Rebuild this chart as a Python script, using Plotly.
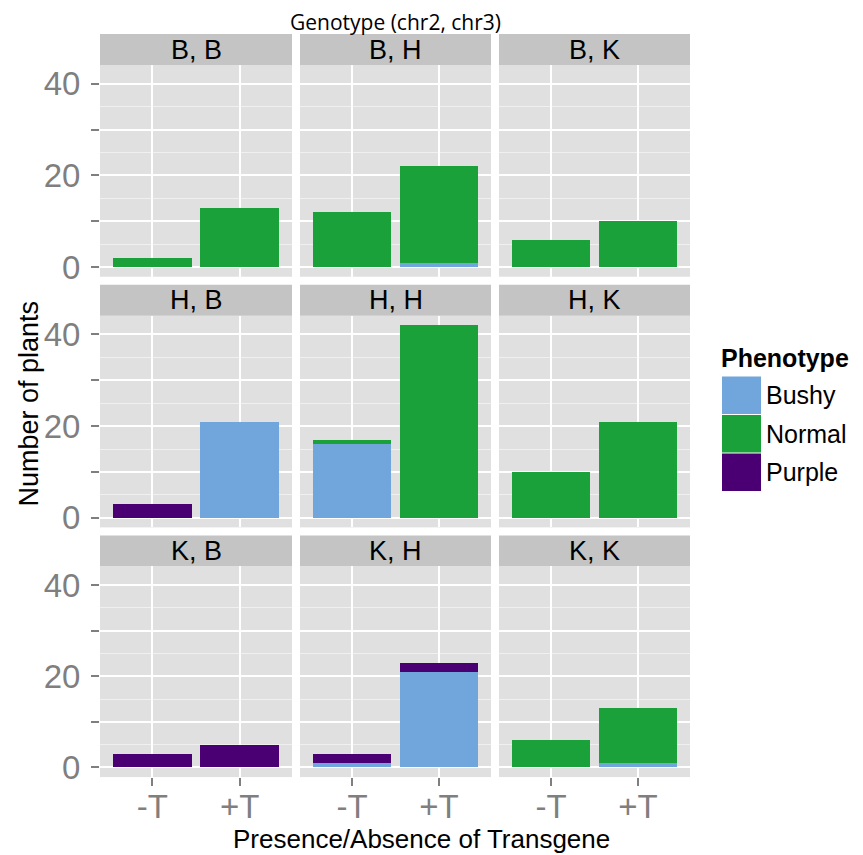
import plotly.graph_objects as go
from plotly.subplots import make_subplots

# ---------------- data ----------------
genotypes = ["B, B", "B, H", "B, K",
             "H, B", "H, H", "H, K",
             "K, B", "K, H", "K, K"]
transgene = ["-T", "+T"]
phenotypes = ["Bushy", "Normal", "Purple"]

bushy_minus = [0, 0, 0, 0, 16, 0, 0, 1, 0]
bushy_plus = [0, 1, 0, 21, 0, 0, 0, 21, 1]
normal_minus = [2, 12, 6, 0, 1, 10, 0, 0, 6]
normal_plus = [13, 21, 10, 0, 42, 21, 0, 0, 12]
purple_minus = [0, 0, 0, 3, 0, 0, 3, 2, 0]
purple_plus = [0, 0, 0, 0, 0, 0, 5, 2, 0]

y_tick_vals = [0, 10, 20, 30, 40]
y_tick_text = ["0", "", "20", "", "40"]
y_minor_vals = [5, 15, 25, 35]

# ---------------- styles ----------------
colors = {"Bushy": "#71A6DC", "Normal": "#1AA13A", "Purple": "#4A0072"}
OFF = 8            # default page body margin
SY = 863 / 855     # observed vertical scale of the snapshot
W, H = 863 - 2 * OFF, 852
FONT = "Liberation Sans"
col_px = [(100, 292), (300, 491), (499, 690)]
row_px = [(65, 277), (316, 528), (567, 778)]
strip_px = [(34, 65), (285, 316), (536, 567)]

def px_x(x):
    return (x - OFF) / W

def px_y(y):
    return 1 - (y * SY - OFF) / H

series = {
    "Bushy": (bushy_minus, bushy_plus),
    "Normal": (normal_minus, normal_plus),
    "Purple": (purple_minus, purple_plus),
}

fig = make_subplots(rows=3, cols=3)

for i, g in enumerate(genotypes):
    r, c = i // 3 + 1, i % 3 + 1
    for p in phenotypes:
        minus, plus = series[p]
        fig.add_trace(
            go.Bar(x=transgene, y=[minus[i], plus[i]], name=p,
                   marker=dict(color=colors[p], line=dict(width=0)),
                   showlegend=False),
            row=r, col=c)

shapes = []
annotations = []
for i, g in enumerate(genotypes):
    r, c = i // 3, i % 3
    idx = i + 1
    xa = "xaxis" if idx == 1 else f"xaxis{idx}"
    ya = "yaxis" if idx == 1 else f"yaxis{idx}"
    x0, x1 = col_px[c]
    y0, y1 = row_px[r]
    fig.layout[xa].update(
        domain=[px_x(x0), px_x(x1)],
        type="category", categoryorder="array", categoryarray=transgene,
        range=[-0.6, 1.6],
        showgrid=True, gridcolor="white", gridwidth=1.6,
        zeroline=False, showline=False,
        ticks="outside" if r == 2 else "", ticklen=8, tickwidth=1.5,
        tickcolor="#7F7F7F",
        showticklabels=(r == 2),
        tickfont=dict(family=FONT, size=33, color="#7F7F7F"),
        ticklabelstandoff=-8,
        fixedrange=True,
    )
    fig.layout[ya].update(
        domain=[px_y(y1), px_y(y0)],
        range=[-2.1, 44.1],
        tickmode="array", tickvals=y_tick_vals, ticktext=y_tick_text,
        showgrid=True, gridcolor="white", gridwidth=1.6,
        minor=dict(tickmode="array", tickvals=y_minor_vals, showgrid=True,
                   gridcolor="#F0F0F0", gridwidth=0.8, ticks=""),
        zeroline=False, showline=False,
        ticks="outside" if c == 0 else "", ticklen=8, tickwidth=1.5,
        tickcolor="#7F7F7F",
        showticklabels=(c == 0),
        tickfont=dict(family=FONT, size=33, color="#7F7F7F"),
        ticklabelstandoff=4,
        fixedrange=True,
    )
    sy0, sy1 = strip_px[r]
    shapes.append(dict(type="rect", xref="paper", yref="paper",
                       x0=px_x(x0), x1=px_x(x1), y0=px_y(sy1), y1=px_y(sy0),
                       fillcolor="#C4C4C4", line=dict(width=0), layer="below"))
    annotations.append(dict(text=g, xref="paper", yref="paper",
                            x=px_x((x0 + x1) / 2), y=px_y((sy0 + sy1) / 2),
                            xanchor="center", yanchor="middle", showarrow=False,
                            font=dict(family=FONT, size=27, color="black")))

# titles
annotations.append(dict(text="Genotype (chr2, chr3)", xref="paper", yref="paper",
                        x=px_x(395), y=px_y(22.2), xanchor="center", yanchor="middle",
                        showarrow=False,
                        font=dict(family="Open Sans", size=21, color="black")))
annotations.append(dict(text="Presence/Absence of Transgene", xref="paper", yref="paper",
                        x=px_x(421), y=px_y(840), xanchor="center", yanchor="middle",
                        showarrow=False,
                        font=dict(family=FONT, size=26, color="black")))
annotations.append(dict(text="Number of plants", xref="paper", yref="paper",
                        x=px_x(29), y=px_y(404), xanchor="center", yanchor="middle",
                        textangle=-90, showarrow=False,
                        font=dict(family=FONT, size=27, color="black")))

# legend (drawn manually to match large key boxes)
annotations.append(dict(text="<b>Phenotype</b>", xref="paper", yref="paper",
                        x=px_x(719), y=px_y(358), xanchor="left", yanchor="middle",
                        showarrow=False,
                        font=dict(family=FONT, size=25, color="black")))
key_top = 377
key_h = 38.5
for k, p in enumerate(phenotypes):
    ky0 = key_top + k * key_h
    ky1 = ky0 + key_h - 1
    shapes.append(dict(type="rect", xref="paper", yref="paper",
                       x0=px_x(722), x1=px_x(761), y0=px_y(ky1), y1=px_y(ky0),
                       fillcolor=colors[p], line=dict(width=0)))
    annotations.append(dict(text=p, xref="paper", yref="paper",
                            x=px_x(764), y=px_y((ky0 + ky1) / 2),
                            xanchor="left", yanchor="middle", showarrow=False,
                            font=dict(family=FONT, size=25, color="black")))

fig.update_layout(
    width=W, height=H,
    margin=dict(l=0, r=0, t=0, b=0),
    barmode="stack", bargap=0.1,
    plot_bgcolor="#E0E0E0", paper_bgcolor="white",
    shapes=shapes, annotations=annotations,
    showlegend=False,
)

fig.write_html("out.html")
